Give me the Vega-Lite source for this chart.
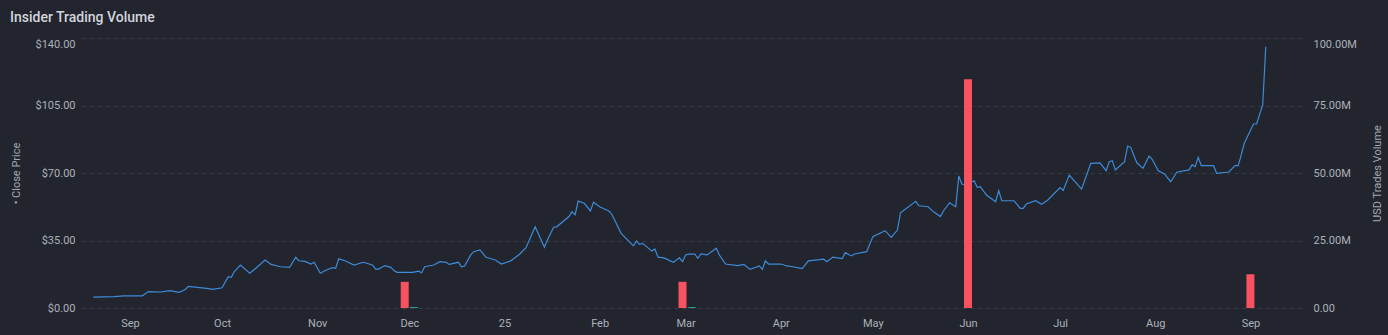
{
  "$schema": "https://vega.github.io/schema/vega-lite/v6.json",
  "width": 1221,
  "height": 270,
  "autosize": "none",
  "padding": {"left": 82, "top": 38, "right": 85, "bottom": 27},
  "background": "#22252e",
  "config": {"view": {"stroke": null}, "font": "Roboto"},
  "title": {"text": "Insider Trading Volume", "anchor": "start", "frame": "group", "dx": -72, "offset": 13, "fontSize": 14, "fontWeight": 500, "color": "#d1d4dc", "font": "Roboto"},
  "datasets": {
    "price": [
      {"date": "2024-08-20", "price": 5.6}, {"date": "2024-08-27", "price": 5.9}, {"date": "2024-08-30", "price": 6.3},
      {"date": "2024-09-05", "price": 6.3}, {"date": "2024-09-07", "price": 8.5}, {"date": "2024-09-11", "price": 8.3},
      {"date": "2024-09-14", "price": 9.0}, {"date": "2024-09-17", "price": 8.1}, {"date": "2024-09-19", "price": 9.6},
      {"date": "2024-09-20", "price": 11.2}, {"date": "2024-09-23", "price": 10.7}, {"date": "2024-09-26", "price": 10.2},
      {"date": "2024-09-28", "price": 9.7}, {"date": "2024-10-01", "price": 10.5}, {"date": "2024-10-03", "price": 16.2},
      {"date": "2024-10-04", "price": 15.9}, {"date": "2024-10-05", "price": 18.9}, {"date": "2024-10-07", "price": 22.3},
      {"date": "2024-10-10", "price": 18.0}, {"date": "2024-10-12", "price": 20.6}, {"date": "2024-10-15", "price": 24.9},
      {"date": "2024-10-17", "price": 22.6}, {"date": "2024-10-20", "price": 21.4}, {"date": "2024-10-23", "price": 21.1},
      {"date": "2024-10-25", "price": 26.3}, {"date": "2024-10-26", "price": 24.5}, {"date": "2024-10-28", "price": 24.2},
      {"date": "2024-10-30", "price": 22.8}, {"date": "2024-10-31", "price": 23.7}, {"date": "2024-11-02", "price": 18.0},
      {"date": "2024-11-04", "price": 19.7}, {"date": "2024-11-06", "price": 20.9}, {"date": "2024-11-07", "price": 20.6},
      {"date": "2024-11-08", "price": 25.5}, {"date": "2024-11-10", "price": 24.5}, {"date": "2024-11-13", "price": 22.3},
      {"date": "2024-11-16", "price": 23.7}, {"date": "2024-11-19", "price": 22.3}, {"date": "2024-11-20", "price": 20.2},
      {"date": "2024-11-21", "price": 20.2}, {"date": "2024-11-23", "price": 22.0}, {"date": "2024-11-25", "price": 21.1},
      {"date": "2024-11-26", "price": 19.4}, {"date": "2024-11-27", "price": 18.5}, {"date": "2024-11-28", "price": 18.5},
      {"date": "2024-11-29", "price": 18.5}, {"date": "2024-12-02", "price": 18.5}, {"date": "2024-12-04", "price": 19.1},
      {"date": "2024-12-05", "price": 18.3}, {"date": "2024-12-06", "price": 21.4}, {"date": "2024-12-09", "price": 22.3},
      {"date": "2024-12-11", "price": 24.0}, {"date": "2024-12-13", "price": 23.7}, {"date": "2024-12-14", "price": 22.6},
      {"date": "2024-12-17", "price": 23.7}, {"date": "2024-12-18", "price": 21.4}, {"date": "2024-12-19", "price": 21.8},
      {"date": "2024-12-21", "price": 27.5}, {"date": "2024-12-22", "price": 29.2}, {"date": "2024-12-24", "price": 30.1},
      {"date": "2024-12-26", "price": 26.3}, {"date": "2024-12-29", "price": 24.9}, {"date": "2024-12-31", "price": 22.8},
      {"date": "2025-01-03", "price": 24.4}, {"date": "2025-01-06", "price": 28.0}, {"date": "2025-01-08", "price": 31.3},
      {"date": "2025-01-11", "price": 42.1}, {"date": "2025-01-14", "price": 31.5}, {"date": "2025-01-15", "price": 35.3},
      {"date": "2025-01-17", "price": 41.9}, {"date": "2025-01-18", "price": 42.1}, {"date": "2025-01-22", "price": 47.4},
      {"date": "2025-01-23", "price": 49.9}, {"date": "2025-01-24", "price": 48.3}, {"date": "2025-01-25", "price": 55.4},
      {"date": "2025-01-27", "price": 54.3}, {"date": "2025-01-29", "price": 50.3}, {"date": "2025-01-30", "price": 54.8},
      {"date": "2025-02-01", "price": 52.5}, {"date": "2025-02-04", "price": 50.3}, {"date": "2025-02-05", "price": 48.5},
      {"date": "2025-02-08", "price": 38.7}, {"date": "2025-02-12", "price": 32.2}, {"date": "2025-02-13", "price": 34.8},
      {"date": "2025-02-14", "price": 33.0}, {"date": "2025-02-15", "price": 33.5}, {"date": "2025-02-18", "price": 29.5},
      {"date": "2025-02-19", "price": 30.6}, {"date": "2025-02-20", "price": 26.4}, {"date": "2025-02-22", "price": 26.0},
      {"date": "2025-02-25", "price": 23.7}, {"date": "2025-02-27", "price": 26.0}, {"date": "2025-02-28", "price": 24.0},
      {"date": "2025-03-01", "price": 27.5}, {"date": "2025-03-02", "price": 27.9}, {"date": "2025-03-04", "price": 27.9},
      {"date": "2025-03-05", "price": 25.8}, {"date": "2025-03-06", "price": 28.0}, {"date": "2025-03-08", "price": 27.5},
      {"date": "2025-03-11", "price": 31.0}, {"date": "2025-03-12", "price": 27.5}, {"date": "2025-03-14", "price": 22.8},
      {"date": "2025-03-18", "price": 22.0}, {"date": "2025-03-20", "price": 22.6}, {"date": "2025-03-22", "price": 20.0},
      {"date": "2025-03-25", "price": 21.8}, {"date": "2025-03-26", "price": 20.0}, {"date": "2025-03-27", "price": 24.4},
      {"date": "2025-03-28", "price": 22.8}, {"date": "2025-04-01", "price": 22.8}, {"date": "2025-04-03", "price": 21.8},
      {"date": "2025-04-05", "price": 21.4}, {"date": "2025-04-08", "price": 20.4}, {"date": "2025-04-10", "price": 24.4},
      {"date": "2025-04-15", "price": 25.3}, {"date": "2025-04-16", "price": 24.0}, {"date": "2025-04-18", "price": 26.4},
      {"date": "2025-04-21", "price": 25.6}, {"date": "2025-04-22", "price": 28.7}, {"date": "2025-04-24", "price": 27.0},
      {"date": "2025-04-25", "price": 28.0}, {"date": "2025-04-29", "price": 29.2}, {"date": "2025-05-01", "price": 37.0},
      {"date": "2025-05-05", "price": 40.1}, {"date": "2025-05-07", "price": 36.6}, {"date": "2025-05-09", "price": 40.4},
      {"date": "2025-05-10", "price": 49.4}, {"date": "2025-05-15", "price": 55.3}, {"date": "2025-05-16", "price": 53.0},
      {"date": "2025-05-19", "price": 52.5}, {"date": "2025-05-21", "price": 49.6}, {"date": "2025-05-23", "price": 47.4},
      {"date": "2025-05-24", "price": 50.3}, {"date": "2025-05-26", "price": 54.6}, {"date": "2025-05-28", "price": 52.5},
      {"date": "2025-05-29", "price": 68.4}, {"date": "2025-05-30", "price": 64.3}, {"date": "2025-05-31", "price": 63.8},
      {"date": "2025-06-03", "price": 66.0}, {"date": "2025-06-04", "price": 62.6}, {"date": "2025-06-05", "price": 62.9},
      {"date": "2025-06-07", "price": 58.6}, {"date": "2025-06-10", "price": 55.1}, {"date": "2025-06-11", "price": 60.9},
      {"date": "2025-06-12", "price": 55.6}, {"date": "2025-06-16", "price": 55.6}, {"date": "2025-06-18", "price": 51.7},
      {"date": "2025-06-19", "price": 51.7}, {"date": "2025-06-20", "price": 53.9}, {"date": "2025-06-23", "price": 55.6},
      {"date": "2025-06-25", "price": 53.8}, {"date": "2025-06-27", "price": 56.0}, {"date": "2025-07-01", "price": 62.4},
      {"date": "2025-07-02", "price": 60.9}, {"date": "2025-07-04", "price": 68.9}, {"date": "2025-07-08", "price": 61.6},
      {"date": "2025-07-11", "price": 75.0}, {"date": "2025-07-14", "price": 75.3}, {"date": "2025-07-16", "price": 71.2},
      {"date": "2025-07-17", "price": 75.9}, {"date": "2025-07-18", "price": 76.4}, {"date": "2025-07-19", "price": 71.6},
      {"date": "2025-07-22", "price": 75.9}, {"date": "2025-07-23", "price": 84.0}, {"date": "2025-07-24", "price": 83.3},
      {"date": "2025-07-26", "price": 75.3}, {"date": "2025-07-28", "price": 72.4}, {"date": "2025-07-30", "price": 78.8},
      {"date": "2025-07-31", "price": 77.1}, {"date": "2025-08-02", "price": 71.2}, {"date": "2025-08-04", "price": 69.5},
      {"date": "2025-08-06", "price": 65.5}, {"date": "2025-08-07", "price": 67.8}, {"date": "2025-08-08", "price": 70.4},
      {"date": "2025-08-12", "price": 71.6}, {"date": "2025-08-13", "price": 74.2}, {"date": "2025-08-14", "price": 73.3},
      {"date": "2025-08-15", "price": 78.1}, {"date": "2025-08-16", "price": 73.8}, {"date": "2025-08-20", "price": 73.8},
      {"date": "2025-08-21", "price": 69.8}, {"date": "2025-08-25", "price": 70.5}, {"date": "2025-08-27", "price": 73.8},
      {"date": "2025-08-28", "price": 73.8}, {"date": "2025-08-29", "price": 79.3}, {"date": "2025-08-30", "price": 85.4},
      {"date": "2025-09-02", "price": 95.4}, {"date": "2025-09-03", "price": 95.4}, {"date": "2025-09-05", "price": 105.3},
      {"date": "2025-09-06", "price": 135.5}
    ],
    "volume": [
      {"date": "2024-11-29T12:00:00Z", "volume": 9700000, "side": "Sell"},
      {"date": "2024-12-02T12:00:00Z", "volume": 350000, "side": "Buy"},
      {"date": "2025-02-28T00:00:00Z", "volume": 9700000, "side": "Sell"},
      {"date": "2025-03-03T00:00:00Z", "volume": 350000, "side": "Buy"},
      {"date": "2025-06-01T00:00:00Z", "volume": 84700000, "side": "Sell"},
      {"date": "2025-09-01T00:00:00Z", "volume": 12500000, "side": "Sell"}
    ]
  },
  "layer": [
    {
      "data": {"name": "price"},
      "mark": {"type": "line", "color": "#3d8bd9", "strokeWidth": 1.2},
      "encoding": {
        "x": {
          "field": "date", "type": "temporal",
          "scale": {"type": "utc", "nice": false, "domain": [{"year": 2024, "month": "aug", "date": 18, "utc": true}, {"year": 2025, "month": "sep", "date": 16, "hours": 12, "utc": true}]},
          "axis": {
            "title": null, "domain": false, "ticks": false, "grid": false,
            "tickCount": {"interval": "month", "step": 1},
            "labelExpr": "utcFormat(datum.value, '%m') == '01' ? utcFormat(datum.value, '%y') : utcFormat(datum.value, '%b')",
            "labelPadding": 9, "labelFontSize": 11, "labelColor": "#adb1ba", "labelFont": "Roboto"
          }
        },
        "y": {
          "field": "price", "type": "quantitative",
          "scale": {"domain": [0, 140], "nice": false},
          "axis": {
            "values": [0, 35, 70, 105, 140], "format": "$,.2f",
            "labelBaseline": {"condition": {"test": "datum.value == 140", "value": "top"}, "value": "middle"},
            "domain": false, "ticks": false, "grid": true, "gridDash": [4, 4], "gridColor": "#383c47",
            "labelPadding": 7, "labelFontSize": 11, "labelColor": "#adb1ba", "labelFont": "Roboto",
            "title": "• Close Price", "titleX": -66, "titleY": 135, "titleAngle": -90, "titleAlign": "center", "titleBaseline": "middle",
            "titleFontSize": 11, "titleFontWeight": "normal", "titleColor": "#a3a7b0", "titleFont": "Roboto"
          }
        }
      }
    },
    {
      "data": {"name": "volume"},
      "mark": {"type": "bar", "size": 8},
      "encoding": {
        "x": {"field": "date", "type": "temporal"},
        "y": {
          "field": "volume", "type": "quantitative", "stack": null,
          "scale": {"domain": [0, 100000000], "nice": false},
          "axis": {
            "orient": "right", "values": [0, 25000000, 50000000, 75000000, 100000000],
            "labelExpr": "datum.value == 0 ? '0.00' : format(datum.value / 1e6, '.2f') + 'M'",
            "labelBaseline": {"condition": {"test": "datum.value == 100000000", "value": "top"}, "value": "middle"},
            "domain": false, "ticks": false, "grid": false,
            "labelPadding": 10, "labelFontSize": 11, "labelColor": "#adb1ba", "labelFont": "Roboto",
            "title": "USD Trades Volume", "titleX": 74, "titleY": 135, "titleAngle": -90, "titleAlign": "center", "titleBaseline": "middle",
            "titleFontSize": 11, "titleFontWeight": "normal", "titleColor": "#a3a7b0", "titleFont": "Roboto"
          }
        },
        "color": {"field": "side", "type": "nominal", "scale": {"domain": ["Sell", "Buy"], "range": ["#f7525f", "#26a69a"]}, "legend": null}
      }
    }
  ],
  "resolve": {"scale": {"y": "independent"}}
}
